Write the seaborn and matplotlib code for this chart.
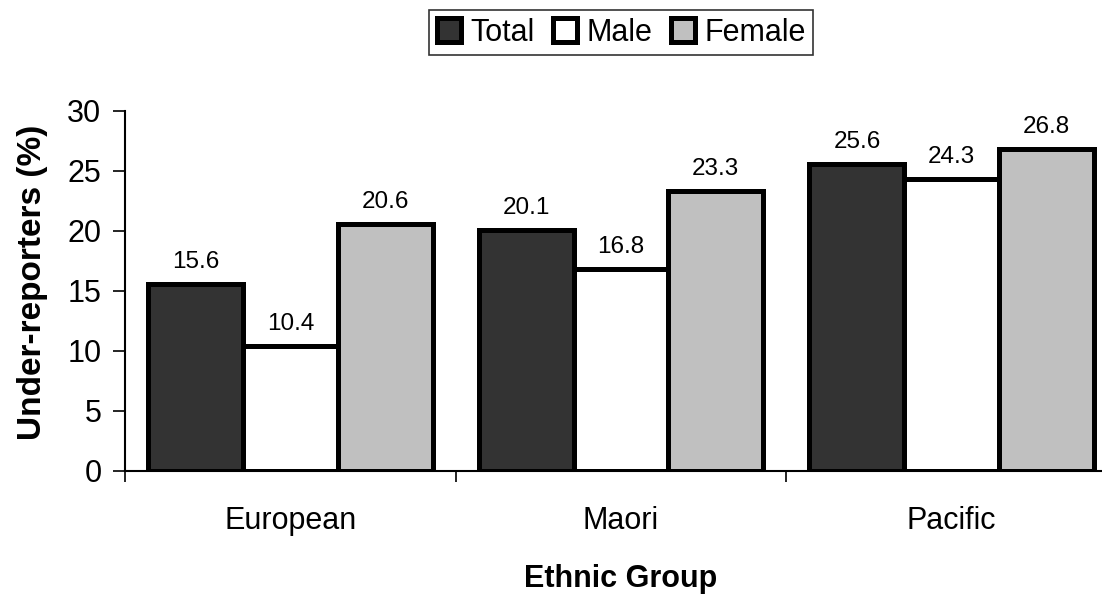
import pandas as pd
import seaborn as sns
import matplotlib.pyplot as plt
from matplotlib.ticker import FixedLocator

# Data
groups = ["European", "Maori", "Pacific"]
series = ["Total", "Male", "Female"]
total = [15.6, 20.1, 25.6]
male = [10.4, 16.8, 24.3]
female = [20.6, 23.3, 26.8]
colors = {"Total": "#333333", "Male": "#ffffff", "Female": "#c0c0c0"}

rows = []
for name, vals in zip(series, [total, male, female]):
    for g, v in zip(groups, vals):
        rows.append({"Ethnic Group": g, "Sex": name, "value": v})
df = pd.DataFrame(rows)

sns.set_style("white")
plt.rcParams['font.family'] = ['Liberation Sans', 'DejaVu Sans']
plt.rcParams['text.color'] = 'black'
plt.rcParams['axes.labelcolor'] = 'black'
plt.rcParams['xtick.color'] = 'black'
plt.rcParams['ytick.color'] = 'black'

fig = plt.figure(figsize=(11.02, 5.95), dpi=100)
ax = fig.add_axes([125 / 1102, 124 / 595, 992 / 1102, 360 / 595])

sns.barplot(data=df, x="Ethnic Group", y="value", hue="Sex",
            hue_order=series, palette=colors, saturation=1,
            width=0.86, edgecolor="black", linewidth=3.6, ax=ax)

for cont in ax.containers:
    ax.bar_label(cont, fmt="%.1f", padding=8, fontsize=17.5)

ax.set_ylim(0, 30)
ax.set_xlim(-0.5, 2.5)
ax.set_yticks([0, 5, 10, 15, 20, 25, 30])
ax.tick_params(axis="y", labelsize=22, length=9, width=1.2, direction="out",
               left=True, pad=8)
ax.tick_params(axis="x", which="major", labelsize=22, length=0, pad=25)
ax.xaxis.set_minor_locator(FixedLocator([-0.5, 0.5, 1.5, 2.5]))
ax.tick_params(axis="x", which="minor", length=8, width=1.2, bottom=True,
               direction="out")

for side in ["top", "right"]:
    ax.spines[side].set_visible(False)
for side in ["left", "bottom"]:
    ax.spines[side].set_color("black")
    ax.spines[side].set_linewidth(1.5)

ax.set_xlabel("Ethnic Group", fontsize=22, fontweight="bold", labelpad=20)
ax.set_ylabel("Under-reporters (%)", fontsize=24, fontweight="bold")
ax.yaxis.set_label_coords(-0.078, 0.525)

handles, labels = ax.get_legend_handles_labels()
ax.legend(handles, labels, ncol=3, loc="lower center",
          bbox_to_anchor=(0.5, 1.155), borderaxespad=0, fontsize=22,
          frameon=True, fancybox=False, edgecolor="black",
          handlelength=0.8, handleheight=0.8, handletextpad=0.3,
          columnspacing=0.6, borderpad=0.25)
ax.get_legend().get_frame().set_linewidth(1.2)

fig.savefig("out.png", dpi=100)
